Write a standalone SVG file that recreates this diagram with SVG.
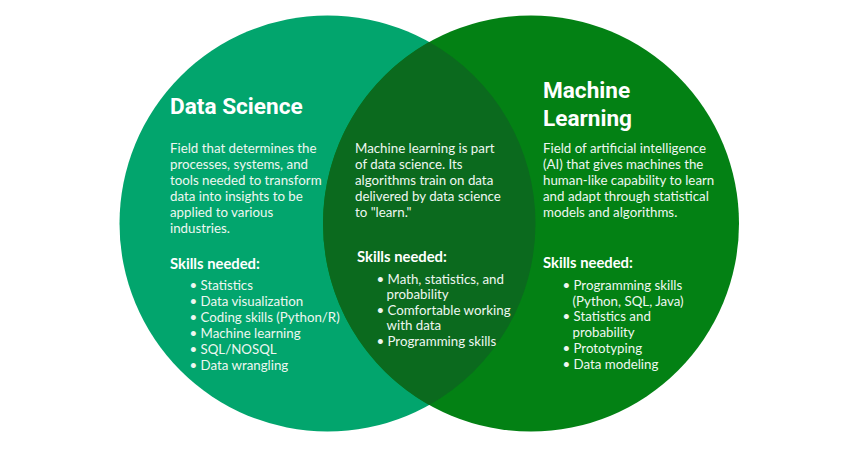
<svg xmlns="http://www.w3.org/2000/svg" width="860" height="450" viewBox="0 0 860 450">
<style>
.title{font-family:Roboto,"Liberation Sans",sans-serif;font-weight:700;font-size:22.6px;fill:#ffffff}
.body{font-family:Lato,"Liberation Sans",sans-serif;font-size:13.3px;fill:#eef7f1}
.skills{font-family:Lato,"Liberation Sans",sans-serif;font-weight:700;font-size:14.8px;fill:#ffffff}
</style>
<rect width="860" height="450" fill="#ffffff"/>
<g id="data-science">
<circle cx="327.5" cy="223.5" r="208" fill="#02a56d"/>
</g>
<g id="machine-learning">
<circle cx="531" cy="223.5" r="208" fill="#038114"/>
</g>
<g id="overlap">
<path d="M429.25 42.1 A208 208 0 0 1 429.25 404.9 A208 208 0 0 1 429.25 42.1 Z" fill="#0b6a1e"/>
</g>
<g id="ds-text">
<text class="title" x="170" y="114">Data Science</text>
<text class="body" x="170" y="153">
<tspan x="170" y="153">Field that determines the</tspan>
<tspan x="170" y="169">processes, systems, and</tspan>
<tspan x="170" y="185">tools needed to transform</tspan>
<tspan x="170" y="201">data into insights to be</tspan>
<tspan x="170" y="217">applied to various</tspan>
<tspan x="170" y="233">industries.</tspan>
</text>
<text class="skills" x="170" y="269">Skills needed:</text>
<text class="body">
<tspan x="189.5" y="290">•</tspan><tspan x="200.5" y="290">Statistics</tspan>
<tspan x="189.5" y="306">•</tspan><tspan x="200.5" y="306">Data visualization</tspan>
<tspan x="189.5" y="322">•</tspan><tspan x="200.5" y="322">Coding skills (Python/R)</tspan>
<tspan x="189.5" y="338">•</tspan><tspan x="200.5" y="338">Machine learning</tspan>
<tspan x="189.5" y="354">•</tspan><tspan x="200.5" y="354">SQL/NOSQL</tspan>
<tspan x="189.5" y="370">•</tspan><tspan x="200.5" y="370">Data wrangling</tspan>
</text>
</g>
<g id="overlap-text">
<text class="body">
<tspan x="355" y="153">Machine learning is part</tspan>
<tspan x="355" y="169">of data science. Its</tspan>
<tspan x="355" y="185">algorithms train on data</tspan>
<tspan x="355" y="201">delivered by data science</tspan>
<tspan x="355" y="217">to "learn."</tspan>
</text>
<text class="skills" x="357" y="262">Skills needed:</text>
<text class="body">
<tspan x="376.5" y="283.5">•</tspan><tspan x="387.5" y="283.5">Math, statistics, and</tspan>
<tspan x="386.5" y="299">probability</tspan>
<tspan x="376.5" y="314.5">•</tspan><tspan x="387.5" y="314.5">Comfortable working</tspan>
<tspan x="386.5" y="330">with data</tspan>
<tspan x="376.5" y="346">•</tspan><tspan x="387.5" y="346">Programming skills</tspan>
</text>
</g>
<g id="ml-text">
<text class="title" x="543" y="98">Machine</text>
<text class="title" x="543" y="126">Learning</text>
<text class="body">
<tspan x="543" y="153">Field of artificial intelligence</tspan>
<tspan x="543" y="169">(AI) that gives machines the</tspan>
<tspan x="543" y="185">human-like capability to learn</tspan>
<tspan x="543" y="201">and adapt through statistical</tspan>
<tspan x="543" y="217">models and algorithms.</tspan>
</text>
<text class="skills" x="543" y="268">Skills needed:</text>
<text class="body">
<tspan x="562.5" y="290">•</tspan><tspan x="573.5" y="290">Programming skills</tspan>
<tspan x="572.5" y="305.7">(Python, SQL, Java)</tspan>
<tspan x="562.5" y="321.4">•</tspan><tspan x="573.5" y="321.4">Statistics and</tspan>
<tspan x="572.5" y="337">probability</tspan>
<tspan x="562.5" y="352.7">•</tspan><tspan x="573.5" y="352.7">Prototyping</tspan>
<tspan x="562.5" y="368.5">•</tspan><tspan x="573.5" y="368.5">Data modeling</tspan>
</text>
</g>
<g id="connectors"></g>
</svg>
